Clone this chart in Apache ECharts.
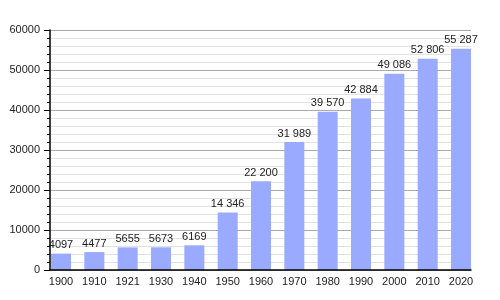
<!DOCTYPE html>
<html>
<head>
<meta charset="utf-8">
<script src="https://cdn.jsdelivr.net/npm/echarts@6/dist/echarts.min.js"></script>
<style>
  html, body { margin: 0; padding: 0; background: #fff; }
  #chart { width: 500px; height: 300px; }
</style>
</head>
<body>
<div id="chart"></div>
<script>
const years = ['1900', '1910', '1921', '1930', '1940', '1950', '1960', '1970', '1980', '1990', '2000', '2010', '2020']
const population = [4097, 4477, 5655, 5673, 6169, 14346, 22200, 31989, 39570, 42884, 49086, 52806, 55287]

// 14346 -> "14 346", small numbers stay as is
const fmt = (v) => v >= 10000 ? String(v).replace(/\B(?=(\d{3})+(?!\d))/g, ' ') : String(v)

const myChart = echarts.init(document.getElementById('chart'))
myChart.setOption({
  animation: false,
  textStyle: { fontFamily: 'Liberation Sans, Arial, sans-serif' },
  // grid 0 holds the bars (bands reach a bit past the frame), grid 1 draws the frame and grid lines
  grid: [
    { left: 44.33, right: 22.33, top: 30, bottom: 30 },
    { left: 50, right: 29, top: 30, bottom: 30 }
  ],
  xAxis: [
    {
      type: 'category',
      gridIndex: 0,
      data: years,
      axisLine: { show: false },
      axisTick: { show: false },
      axisLabel: { color: '#222', fontSize: 11, margin: 6 }
    },
    {
      type: 'value',
      gridIndex: 1,
      min: 0,
      max: 1,
      z: 5,
      axisLine: { show: true, lineStyle: { color: '#000', width: 1.5 } },
      axisTick: { show: false },
      axisLabel: { show: false },
      splitLine: { show: false }
    }
  ],
  yAxis: [
    {
      type: 'value',
      gridIndex: 0,
      min: 0,
      max: 60000,
      show: false
    },
    {
      type: 'value',
      gridIndex: 1,
      min: 0,
      max: 60000,
      interval: 10000,
      z: 0,
      axisLine: { show: true, lineStyle: { color: '#000', width: 1.5 } },
      axisTick: { show: true, length: 6, lineStyle: { color: '#000' } },
      minorTick: { show: true, splitNumber: 5, length: 3, lineStyle: { color: '#000' } },
      axisLabel: { color: '#222', fontSize: 11, margin: 10, formatter: (v) => String(v) },
      splitLine: { lineStyle: { color: '#aaa' } },
      minorSplitLine: { show: true, lineStyle: { color: '#e2e2e2' } }
    }
  ],
  series: [
    {
      type: 'bar',
      xAxisIndex: 0,
      yAxisIndex: 0,
      z: 2,
      data: population,
      barCategoryGap: '40%',
      itemStyle: { color: '#99aaff' },
      label: {
        show: true,
        position: 'top',
        distance: 3,
        color: '#222',
        fontSize: 11,
        formatter: (p) => fmt(p.value)
      }
    }
  ]
})
</script>
</body>
</html>
